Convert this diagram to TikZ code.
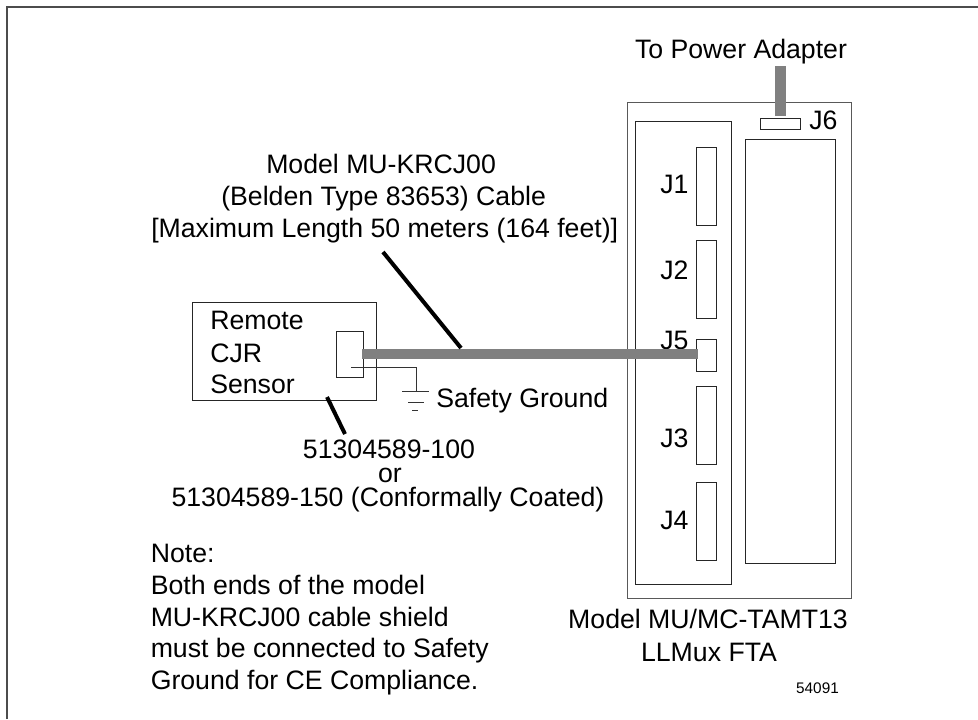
\documentclass[tikz,border=0pt]{standalone}
\usepackage{fontspec}
\setmainfont{Liberation Sans}
\begin{document}
\begin{tikzpicture}[x=0.75pt,y=-0.75pt,
  box/.style={draw=black!85,line width=0.7pt,fill=white,inner sep=0pt},
  outer/.style={box,draw=black!65,line width=0.75pt},
  tallj/.style={box,minimum width=15pt,minimum height=58.5pt},
  cable/.style={draw=black!50,line width=7.5pt},
  leader/.style={draw=black,line width=3pt},
  wire/.style={draw=black!80,line width=0.6pt},
  lab/.style={inner sep=0pt,font=\fontsize{20}{22}\selectfont},
  small/.style={inner sep=0pt,font=\fontsize{11.5}{13}\selectfont}]
\useasboundingbox (0,0) rectangle (978,719);
\fill[white] (0,0) rectangle (978,719);
% page frame
\coordinate (fa) at (7,719);
\coordinate (fb) at (7,7);
\coordinate (fc) at (978,7);
\draw[black!70,line width=0.9pt] (fa) -- (fb) -- (fc);
% FTA board
\node[outer,minimum width=168pt,minimum height=372pt] (fta) at (739,350) {};
\node[box,minimum width=72pt,minimum height=347.25pt] (left) at (683,352.5) {};
\node[box,minimum width=67.5pt,minimum height=318pt] (right) at (790,351) {};
\node[box,minimum width=30.4pt,minimum height=8.25pt] (j6) at (780.5,123.5) {};
\node[tallj] (j1) at (706,186) {};
\node[tallj] (j2) at (706,279) {};
\node[box,minimum width=15pt,minimum height=24pt] (j5) at (706,355) {};
\node[tallj] (j3) at (706,425.5) {};
\node[tallj] (j4) at (706,521.5) {};
% sensor
\node[box,minimum width=138pt,minimum height=73.5pt] (sensor) at (284.5,351) {};
\node[box,minimum width=20.25pt,minimum height=34.5pt] (sconn) at (349.5,354) {};
% labels
\node[lab,anchor=base] (power) at (741,58.5) {To Power Adapter};
\node[lab,anchor=base west] (lj6) at (809,129) {J6};
\node[lab,anchor=base west] (lj1) at (660,193) {J1};
\node[lab,anchor=base west] (lj2) at (660,279) {J2};
\node[lab,anchor=base west] (lj5) at (660,349) {J5};
\node[lab,anchor=base west] (lj3) at (660,447) {J3};
\node[lab,anchor=base west] (lj4) at (660,529) {J4};
\node[lab,anchor=base west] (m1) at (266,173) {Model MU-KRCJ00};
\node[lab,anchor=base west] (m2) at (221,205) {(Belden Type 83653) Cable};
\node[lab,anchor=base west] (m3) at (151,237) {[Maximum Length 50 meters (164 feet)]};
\node[lab,anchor=base west] (s1) at (210,329) {Remote};
\node[lab,anchor=base west] (s2) at (210,362) {CJR};
\node[lab,anchor=base west] (s3) at (210,393) {Sensor};
\node[lab,anchor=base west] (sg) at (436,407) {Safety Ground};
\node[lab,anchor=base] (p1) at (389,458) {51304589-100};
\node[lab,anchor=base] (p2) at (390,482) {or};
\node[lab,anchor=base] (p3) at (388,506) {51304589-150 (Conformally Coated)};
\node[lab,anchor=base west] (n1) at (150.5,562) {Note:};
\node[lab,anchor=base west] (n2) at (150.5,594) {Both ends of the model};
\node[lab,anchor=base west] (n3) at (150.5,626) {MU-KRCJ00 cable shield};
\node[lab,anchor=base west] (n4) at (150.5,657) {must be connected to Safety};
\node[lab,anchor=base west] (n5) at (150.5,689) {Ground for CE Compliance.};
\node[lab,anchor=base] (f1) at (708,628) {Model MU/MC-TAMT13};
\node[lab,anchor=base] (f2) at (709,661) {LLMux FTA};
\node[small,anchor=base] (num) at (817.5,693) {54091};
% cables
\coordinate (pw) at (780.5,66);
\draw[cable,line width=8pt,shorten >=1pt] (pw) -- (j6.north);
\draw[cable] ([xshift=-0.75pt]sconn.east) -- ([xshift=1.5pt]sconn.east -| j5.west);
% leaders
\coordinate (l1a) at (383,252);
\coordinate (l1b) at (461,348);
\draw[leader] (l1a) -- (l1b);
\coordinate (l2a) at (327,397);
\coordinate (l2b) at (345,434);
\draw[leader] (l2a) -- (l2b);
% ground
\coordinate (ga) at (351,367);
\coordinate (gb) at (416,367);
\coordinate (gc) at (416,391);
\draw[wire] (ga) -- (gb) -- (gc);
\coordinate (g1a) at (402,391); \coordinate (g1b) at (429,391);
\coordinate (g2a) at (408,402); \coordinate (g2b) at (424,402);
\coordinate (g3a) at (412,410); \coordinate (g3b) at (418,410);
\draw[wire] (g1a) -- (g1b) (g2a) -- (g2b) (g3a) -- (g3b);
\end{tikzpicture}
\end{document}
